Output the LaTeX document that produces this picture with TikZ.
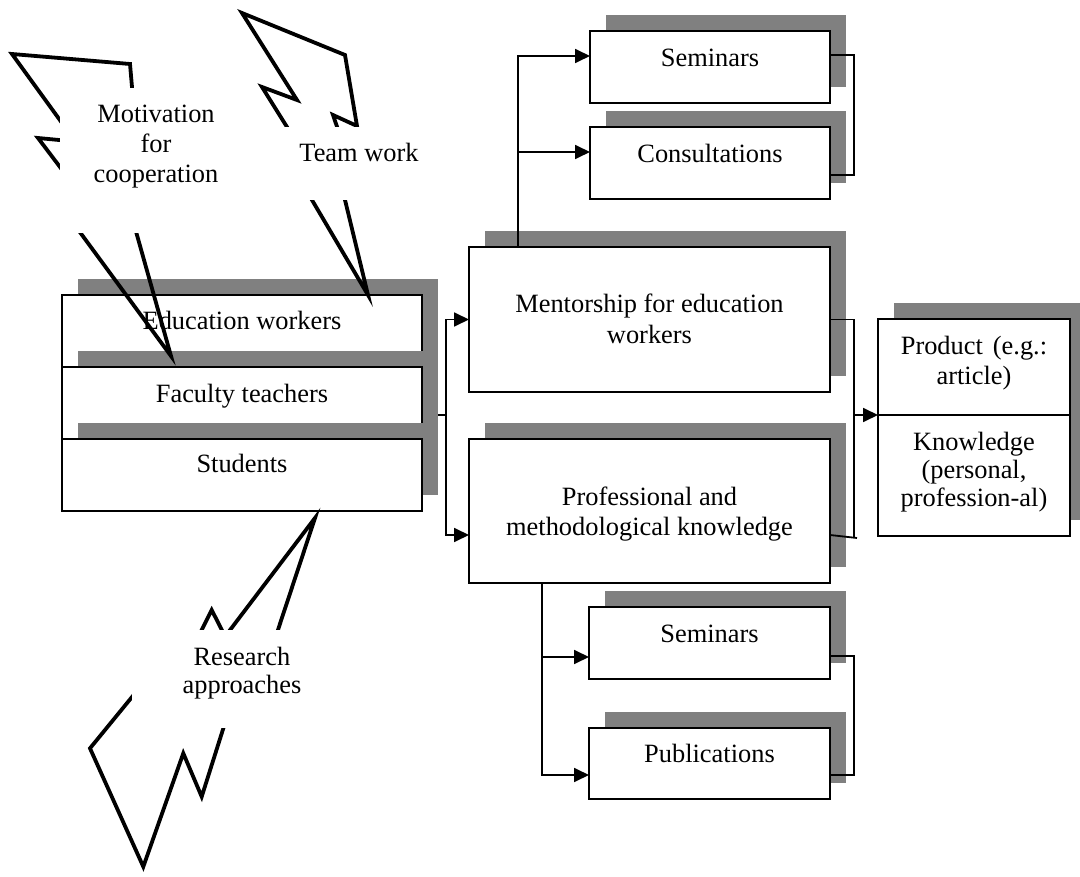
\documentclass[tikz,border=0pt]{standalone}
\usepackage{fontspec}
\setmainfont{Liberation Serif}
\usetikzlibrary{arrows.meta,calc,shadows}
\definecolor{shgray}{RGB}{128,128,128}
\newcommand{\mlines}[1]{\begin{tabular}[t]{@{}c@{}}#1\end{tabular}}
\begin{document}
\begin{tikzpicture}[x=1pt,y=-1pt,
  box/.style={draw, line width=2pt, fill=white, inner sep=0pt, outer sep=0pt, anchor=north west},
  shbox/.style={box, drop shadow={shadow xshift=16pt, shadow yshift=16pt, fill=shgray, opacity=1}},
  txt/.style={inner sep=0pt, anchor=base, font=\fontsize{26.4}{30}\selectfont},
  conn/.style={line width=1.8pt},
  arr/.style={conn, -{Triangle[length=15pt,width=14pt]}},
  callout/.style={line width=3.8pt, line join=miter},
  wbox/.style={fill=white, inner sep=0pt, outer sep=0pt, anchor=north west}]
\useasboundingbox (0,0) rectangle (1080,877);
\fill[white] (0,0) rectangle (1080,877);

% left stack
\node[shbox, minimum width=360pt, minimum height=72pt] (edu) at (62,295) {};
\node[txt] (edut) at ($(edu.north)+(0,35)$) {Education workers};
\node[shbox, minimum width=360pt, minimum height=72pt] (fac) at (62,367) {};
\node[txt] (fact) at ($(fac.north)+(0,36)$) {Faculty teachers};
\node[shbox, minimum width=360pt, minimum height=72pt] (stu) at (62,439) {};
\node[txt] (stut) at ($(stu.north)+(0,34)$) {Students};

% middle boxes
\node[shbox, minimum width=361pt, minimum height=145pt] (mentor) at (469,247) {};
\node[txt, font=\fontsize{26.4}{31}\selectfont] (mentort) at ($(mentor.north)+(0,66)$) {\mlines{Mentorship for education\\workers}};
\node[shbox, minimum width=361pt, minimum height=144pt] (prof) at (469,439) {};
\node[txt] (proft) at ($(prof.north)+(0,66)$) {\mlines{Professional and\\methodological knowledge}};

% top group
\node[shbox, minimum width=240pt, minimum height=72pt] (semA) at (590,31) {};
\node[txt] (semAt) at ($(semA.north)+(0,36)$) {Seminars};
\node[shbox, minimum width=240pt, minimum height=72pt] (cons) at (590,127) {};
\node[txt] (const) at ($(cons.north)+(0,36)$) {Consultations};

% bottom group
\node[shbox, minimum width=241pt, minimum height=72pt] (semB) at (589,607) {};
\node[txt] (semBt) at ($(semB.north)+(0,35)$) {Seminars};
\node[shbox, minimum width=241pt, minimum height=71pt] (pub) at (589,728) {};
\node[txt] (pubt) at ($(pub.north)+(0,34)$) {Publications};

% result box
\fill[shgray] (894,303) rectangle (1080,520);
\node[box, minimum width=192pt, minimum height=96pt] (prod) at (878,319) {};
\node[txt] (prodt) at ($(prod.north)+(0,36)$) {\mlines{Product\hspace{10pt}(e.g.:\\article)}};
\node[box, minimum width=192pt, minimum height=121pt] (know) at (878,415) {};
\node[txt, font=\fontsize{26.4}{28.5}\selectfont] (knowt) at ($(know.north)+(0,35)$) {\mlines{Knowledge\\(personal,\\profession-al)}};

% connectors: stack to middle
\coordinate (stkout) at ($(fac.east)+(16,12)$);
\coordinate (trunkL) at ($(stkout)+(8,0)$);
\draw[conn] (stkout) -- (trunkL);
\draw[arr] (trunkL) |- (mentor.west);
\draw[arr] (trunkL) |- ($(prof.north west)+(0,96)$);

% mentor to top group
\coordinate (mtop) at ($(mentor.north west)+(49,0)$);
\draw[arr] (mtop) |- ($(semA.north west)+(0,25)$);
\draw[arr] (mtop) |- ($(cons.north west)+(0,25)$);
\draw[conn] ($(semA.north east)+(0,24)$) -- ++(24,0) |- ($(cons.north east)+(0,48)$);

% prof to bottom group
\coordinate (pbot) at ($(prof.south west)+(73,0)$);
\draw[arr] (pbot) |- ($(semB.north west)+(0,50)$);
\draw[arr] (pbot) |- ($(pub.north west)+(0,47)$);
\draw[conn] ($(semB.north east)+(0,49)$) -- ++(24,0) |- ($(pub.north east)+(0,47)$);

% middle to result
\coordinate (rbot) at (854,538);
\draw[conn] (mentor.east) -| (rbot);
\draw[conn] ($(prof.north east)+(0,96)$) -- ++(27,3);
\coordinate (rmid) at (rbot |- prod.south west);
\draw[arr] (rmid) -- (prod.south west);

% callout 1: Motivation for cooperation
\draw[callout] (12,54) -- (130,64) -- (134,110) -- (133.6,223) -- (171,356) -- (73.2,223)
  -- (70.6,181) -- (38,138) -- (80,142) -- (70,134) -- cycle;
\node[wbox, minimum width=192pt, minimum height=145pt] (c1box) at (60,88) {};
\node[txt] (c1t) at ($(c1box.north)+(0,35)$) {\mlines{Motivation\\for\\cooperation}};

% callout 2: Team work
\draw[callout] (242,13) -- (345,55) -- (357,126) -- (333,115) -- (345,150) -- (342.6,190)
  -- (368,295) -- (306.1,190) -- (297,143) -- (262,87) -- (297,100) -- cycle;
\node[wbox, minimum width=194pt, minimum height=73pt] (c2box) at (262,127) {};
\node[txt] (c2t) at ($(c2box.north)+(0,35)$) {Team work};

% callout 3: Research approaches
\draw[callout] (315,518) -- (268,660) -- (230.7,705) -- (201.7,796.7) -- (183.3,753.3)
  -- (143.3,866.7) -- (90,748.3) -- (150,675) -- (232,650) -- (211.7,610) -- (196.7,640)
  -- (221.7,641) -- cycle;
\node[wbox, minimum width=220pt, minimum height=98pt] (c3box) at (132,630) {};
\node[txt, font=\fontsize{26.4}{28.5}\selectfont] (c3t) at ($(c3box.north)+(0,35)$) {\mlines{Research\\approaches}};
\end{tikzpicture}
\end{document}
